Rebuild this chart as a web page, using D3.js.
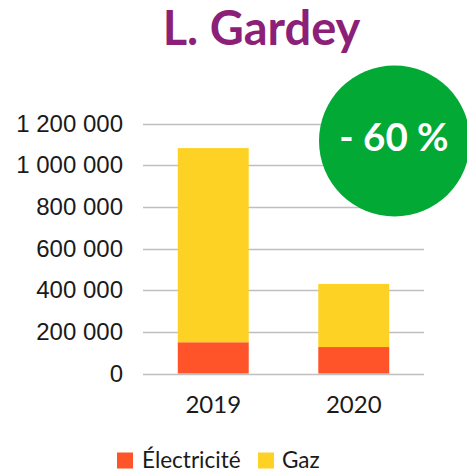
<!DOCTYPE html>
<html><head><meta charset="utf-8">
<script src="https://cdn.jsdelivr.net/npm/d3@7"></script>
<style>body{margin:0;background:#fff}svg{display:block}</style>
</head><body>
<script>
const categories = ["2019", "2020"];
const seriesNames = ["Électricité", "Gaz"];
const electricite = [150000, 127000];
const gaz = [932000, 303000];
const yTicks = [0, 200000, 400000, 600000, 800000, 1000000, 1200000];
const title = "L. Gardey";
const badge = "- 60 %";
const colors = ["#FF5429", "#FDD225"];

const W = 467, H = 472;
const svg = d3.select("body").append("svg").attr("width", W).attr("height", H)
  .style("font-family", "Lato, 'Open Sans', sans-serif");

const x = d3.scaleBand().domain(categories).range([143, 424]).paddingInner(0.495).paddingOuter(0.2475);
const y = d3.scaleLinear().domain([0, 1200000]).range([373.5, 123.5]);

const fmt = v => d3.format(",")(v).replace(/,/g, " ");

// grid
svg.append("g").selectAll("line").data(yTicks).join("line")
  .attr("x1", 143).attr("x2", 424)
  .attr("y1", d => Math.round(y(d)) + 0.5).attr("y2", d => Math.round(y(d)) + 0.5)
  .attr("stroke", "#BFBFBF").attr("stroke-width", 1.3);

// y axis labels
const yAxis = d3.axisLeft(y).tickValues(yTicks).tickFormat(fmt).tickSize(0).tickPadding(0);
const ya = svg.append("g").attr("transform", "translate(123,0)").call(yAxis);
ya.select(".domain").remove();
ya.attr("font-family", null).attr("font-size", null);
ya.selectAll("text").attr("font-size", 24).attr("fill", "#1a1a1a")
  .attr("font-family", "'Liberation Sans', Arial, sans-serif");

// stacked data
const data = categories.map((c, i) => ({cat: c, "Électricité": electricite[i], "Gaz": gaz[i]}));
const stack = d3.stack().keys(seriesNames)(data);
svg.append("g").selectAll("g").data(stack).join("g")
  .attr("fill", (d, i) => colors[i])
  .selectAll("rect").data(d => d).join("rect")
  .attr("x", d => x(d.data.cat)).attr("width", x.bandwidth())
  .attr("y", d => y(d[1])).attr("height", d => y(d[0]) - y(d[1]));

// x axis labels
const xAxis = d3.axisBottom(x).tickSize(0).tickPadding(0);
const xa = svg.append("g").attr("transform", "translate(0,394)").call(xAxis);
xa.select(".domain").remove();
xa.attr("font-family", null).attr("font-size", null);
xa.selectAll("text").attr("dy", null).attr("y", 18.5).attr("font-size", 24).attr("fill", "#1a1a1a")
  .attr("font-family", "Lato, sans-serif");

// title
svg.append("text").attr("x", 261.5).attr("y", 45).attr("text-anchor", "middle")
  .attr("font-size", 47).attr("font-weight", "bold").attr("fill", "#8C1F78").text(title);

// badge
svg.append("circle").attr("cx", 394.5).attr("cy", 141).attr("r", 75.5).attr("fill", "#02A934");
svg.append("text").attr("x", 394).attr("y", 151).attr("text-anchor", "middle")
  .attr("font-size", 38.5).attr("font-weight", "bold").attr("fill", "#fff").text(badge);

// legend
const leg = [{x: 117, tx: 142}, {x: 258, tx: 282}];
seriesNames.forEach((n, i) => {
  svg.append("rect").attr("x", leg[i].x).attr("y", 452.5).attr("width", 16).attr("height", 16).attr("fill", colors[i]);
  svg.append("text").attr("x", leg[i].tx).attr("y", 467.5).attr("font-size", 22.5).attr("fill", "#1a1a1a").text(n);
});
</script>
</body></html>
